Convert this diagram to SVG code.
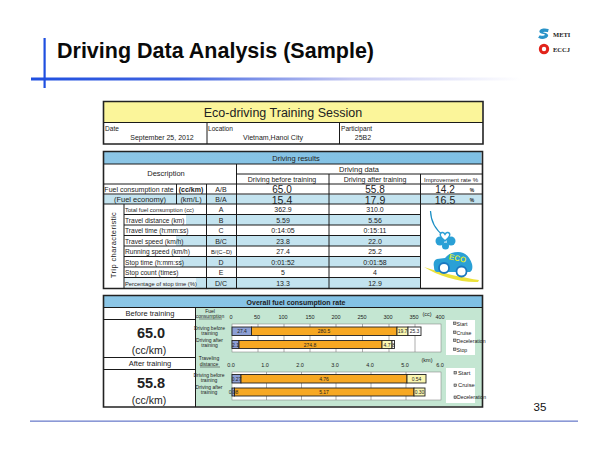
<svg xmlns="http://www.w3.org/2000/svg" width="600" height="450" viewBox="0 0 600 450">
<defs>
<linearGradient id="rule"><stop offset="0" stop-color="#1f4fe0"/><stop offset="0.3" stop-color="#3f63e0"/><stop offset="0.65" stop-color="#c5c8f2"/><stop offset="1" stop-color="#ffffff"/></linearGradient>
<linearGradient id="band" x1="0" x2="1"><stop offset="0" stop-color="#8cc6e6"/><stop offset="1" stop-color="#7fc0e4"/></linearGradient>
</defs>
<style>
text{font-family:"Liberation Sans",Arial,sans-serif;fill:#222;text-anchor:middle}
.s{font-size:7px}.m{font-size:7.5px}.l{font-size:6.6px;text-anchor:start}.v{font-size:7px}
.big1{font-size:10px}.big2{font-size:10.5px}.xs{font-size:5px}.ax{font-size:5.5px}.leg{font-size:5.2px;text-anchor:start}
.val{font-size:14.5px;font-weight:700}.unit{font-size:10.5px}
.line{stroke:#1a1a1a;stroke-width:1;fill:none}.thick{stroke:#222;stroke-width:1.6;fill:none}
.blue{fill:#c3e3ef}.band{fill:url(#band)}.grid{stroke:#777;stroke-width:.6}
.bar{stroke:#222;stroke-width:.9}.o{fill:#f7a823}.y{fill:#fbf6b0}.b{fill:#8d9fd4}.w{fill:#fff}
</style>
<rect width="600" height="450" fill="#fff"/>

<g id="slide-frame">
<rect x="31" y="77.500" width="490" height="3" fill="url(#rule)"/>
<rect x="43.500" y="38" width="2.200" height="50" fill="#1f4fe0"/>
<text x="57" y="58" font-size="22.500" font-weight="700" style="text-anchor:start;fill:#0a0a0a" textLength="317" lengthAdjust="spacingAndGlyphs">Driving Data Analysis (Sample)</text>
<rect x="30" y="420.500" width="548" height="1.300" fill="#6f80cc"/>
<text x="540" y="411" font-size="11.500" style="fill:#111">35</text>
</g>

<g id="logos">
<path d="M548 29.500c-3-1-7-.5-8 1.500-1 2.500 6 2 5.500 4-.5 1.500-3 1.500-5.500 1l-1 1.500c3 1.500 7 1 8.500-1.500 1-2.500-5.500-2.500-5-4 .5-1 3-1 5-.5z" fill="#2a93c8" stroke="#2a93c8" stroke-width="1.200"/>
<text x="553" y="36.500" font-size="6.500" font-weight="700" style="text-anchor:start;font-family:'Liberation Serif',serif">METI</text>
<circle cx="544" cy="49" r="5.200" fill="#e2231a"/><circle cx="544" cy="49" r="2.200" fill="#fff"/>
<text x="553" y="51.500" font-size="6.500" font-weight="700" style="text-anchor:start;font-family:'Liberation Serif',serif">ECCJ</text>
</g>

<g id="session-table">
<rect x="103.500" y="101.500" width="379.500" height="42.500" fill="#fff"/>
<rect x="104" y="102" width="378.500" height="20.500" fill="#fbf59a"/>
<path class="thick" d="M103.500 101.500H483V144H103.500Z"/>
<path class="line" d="M104 122.500H483M207 122.500V144M339.500 122.500V144"/>
<text x="283" y="116.500" font-size="12.500">Eco-driving Training Session</text>
<text class="l" x="105" y="131">Date</text>
<text class="s" x="162" y="140">September 25, 2012</text>
<text class="l" x="208" y="131">Location</text>
<text class="s" x="273" y="140">Vietnam,Hanoi City</text>
<text class="l" x="341" y="131">Participant</text>
<text class="s" x="363" y="140">25B2</text>
</g>

<g id="results-table">
<rect x="103" y="151" width="379" height="138" fill="#fff"/>
<rect class="band" x="103.500" y="152" width="378" height="12"/>
<rect class="blue" x="104" y="194.500" width="378" height="9.500"/>
<rect class="blue" x="124" y="214.500" width="358" height="10.500"/>
<rect class="blue" x="124" y="235.500" width="358" height="10.500"/>
<rect class="blue" x="124" y="256.500" width="358" height="10.500"/>
<rect class="blue" x="124" y="277.500" width="358" height="10.500"/>
<rect x="124" y="214.500" width="62" height="10.500" fill="#fff"/>
<rect x="124" y="235.500" width="52" height="10.500" fill="#fff"/>
<rect x="124" y="256.500" width="56" height="10.500" fill="#fff"/>
<rect x="124" y="277.500" width="72" height="10.500" fill="#fff" opacity=".6"/>
<rect x="420.500" y="204" width="62" height="85" fill="#fff"/>
<path class="thick" d="M103.500 151.500H482.500V288.500H103.500Z"/>
<path class="line" d="M103.500 164H482.500M236.500 164V288.500M236.500 174H482.500M236.500 184H482.500M103.500 184H236.500M103.500 194H482.500M103.500 204H482.500M206.500 184V288.500M176.500 184V204M329 174V288.500M420.500 174V288.500M124 204V288.500"/>
<path class="line" d="M124 214.500H420.500M124 225H420.500M124 235.500H420.500M124 246H420.500M124 256.500H420.500M124 267H420.500M124 277.500H420.500"/>
<text class="m" x="296" y="161">Driving results</text>
<text class="m" x="166" y="176">Description</text>
<text class="m" x="359" y="172">Driving data</text>
<text class="s" x="282" y="182">Driving before training</text>
<text class="s" x="375" y="182">Driving after training</text>
<text style="font-size:6px" x="451" y="182">Improvement rate %</text>
<text class="s" x="139" y="192">Fuel consumption rate</text>
<text class="s" x="191" y="192" font-weight="700">(cc/km)</text>
<text class="s" x="221" y="192">A/B</text>
<text class="big1" x="282" y="192.500">65.0</text>
<text class="big1" x="375" y="192.500">55.8</text>
<text class="big1" x="445" y="192.500">14.2</text>
<text class="xs" x="472" y="192" font-weight="700">%</text>
<text class="m" x="140" y="202">(Fuel economy)</text>
<text class="m" x="191" y="202">(km/L)</text>
<text class="s" x="221" y="202">B/A</text>
<text class="big2" x="282" y="203.800">15.4</text>
<text class="big2" x="375" y="203.800">17.9</text>
<text class="big2" x="445" y="203.800">16.5</text>
<text class="xs" x="472" y="202" font-weight="700">%</text>
<text class="m" transform="translate(115.500 245) rotate(-90)" style="letter-spacing:.4px">Trip characteristic</text>
<text class="l" style="font-size:5.800px" x="125" y="212">Total fuel consumption (cc)</text>
<text class="l" x="125" y="222.500">Travel distance (km)</text>
<text class="l" x="125" y="233">Travel time (h:mm:ss)</text>
<text class="l" x="125" y="243.500">Travel speed (km/h)</text>
<text class="l" x="125" y="254">Running speed (km/h)</text>
<text class="l" x="125" y="264.500">Stop time (h:mm:ss)</text>
<text class="l" x="125" y="275">Stop count (times)</text>
<text class="l" style="font-size:5.800px" x="125" y="285.500">Percentage of stop time (%)</text>
<text class="s" x="221" y="212">A</text><text class="s" x="221" y="222.500">B</text><text class="s" x="221" y="233">C</text><text class="s" x="221" y="243.500">B/C</text><text style="font-size:5.800px" x="221.500" y="254">B/(C−D)</text><text class="s" x="221" y="264.500">D</text><text class="s" x="221" y="275">E</text><text class="s" x="221" y="285.500">D/C</text>
<text class="v" x="283" y="212">362.9</text><text class="v" x="283" y="222.500">5.59</text><text class="v" x="283" y="233">0:14:05</text><text class="v" x="283" y="243.500">23.8</text><text class="v" x="283" y="254">27.4</text><text class="v" x="283" y="264.500">0:01:52</text><text class="v" x="283" y="275">5</text><text class="v" x="283" y="285.500">13.3</text>
<text class="v" x="375" y="212">310.0</text><text class="v" x="375" y="222.500">5.56</text><text class="v" x="375" y="233">0:15:11</text><text class="v" x="375" y="243.500">22.0</text><text class="v" x="375" y="254">25.2</text><text class="v" x="375" y="264.500">0:01:58</text><text class="v" x="375" y="275">4</text><text class="v" x="375" y="285.500">12.9</text>
</g>

<g id="eco-icon">
<path d="M430.500 211C431 224 437 231 444 236" fill="none" stroke="#1b8fc4" stroke-width="1.200"/>
<g fill="#2aa0d6"><circle cx="440" cy="241" r="4.500"/><circle cx="451" cy="241" r="4.500"/><circle cx="445.500" cy="246" r="3.500"/></g>
<path d="M445 241c-3-3-6-5-4.500-7.500 1.200-1.800 3.500-1 4.500.8 1-1.800 3.300-2.600 4.500-.8 1.500 2.500-1.500 4.500-4.500 7.500z" fill="#fff" stroke="#2aa0d6" stroke-width="1.500"/>
<path d="M424 267C445 274 465 278 479 280L478 282C462 283 438 276 424 267Z" fill="#ece23a"/>
<path d="M434 267c-1-4 0-7 3-8l8-1c3-3.500 7-6 13-6 7 0 12 5 14 12 1 4 0 7-2 8h-32c-3 0-4-2-4-5z" fill="#2aa0d6"/>
<circle cx="444" cy="268" r="5" fill="#fff" stroke="#1b78c0" stroke-width="1.800"/>
<circle cx="461.500" cy="271.500" r="5" fill="#fff" stroke="#1b78c0" stroke-width="1.800"/>
<text x="457" y="261" font-size="8" font-weight="700" transform="rotate(12 457 261)" style="fill:#d6e83a">ECO</text>
</g>

<g id="overall-table">
<rect x="104" y="296" width="378" height="111" fill="#fff"/>
<rect class="band" x="104" y="296" width="378" height="11.500"/>
<rect x="196" y="308" width="286" height="98.500" fill="#c4e6d2"/>
<path class="thick" d="M103.500 295.500H482.500V407H103.500Z"/>
<path class="line" d="M103.500 307.500H482.500M195.500 307.500V407M103.500 319.500H195.500M103.500 357.500H195.500M103.500 369.500H195.500"/>
<text x="296" y="304.500" font-weight="700" font-size="7">Overall fuel consumption rate</text>
<text class="m" x="150" y="316">Before training</text>
<text class="val" x="151" y="337.500">65.0</text>
<text class="unit" x="149" y="354">(cc/km)</text>
<text class="m" x="150" y="366">After training</text>
<text class="val" x="151" y="388">55.8</text>
<text class="unit" x="149" y="404">(cc/km)</text>
</g>

<g id="chart-fuel">
<rect x="232" y="324" width="209" height="28" fill="#fff" stroke="#777" stroke-width=".5"/>
<path class="grid" d="M258 324V352M284 324V352M310 324V352M336 324V352M362.500 324V352M389 324V352M415 324V352"/>
<rect class="bar b" x="232" y="327" width="19.500" height="8.500"/><rect class="bar o" x="251.500" y="327" width="145.500" height="8.500"/><rect class="bar y" x="397" y="327" width="11" height="8.500"/><rect class="bar w" x="408" y="327" width="13" height="8.500"/>
<rect class="bar b" x="232" y="340.500" width="7" height="8"/><rect class="bar o" x="239" y="340.500" width="143" height="8"/><rect class="bar y" x="382" y="340.500" width="10" height="8"/><rect class="bar w" x="392" y="340.500" width="2.500" height="8"/>
<text class="xs" x="210" y="312.500">Fuel</text><text class="xs" x="210" y="318">consumption</text>
<path d="M199 319H222" stroke="#222" stroke-width=".5"/>
<text class="xs" x="209.500" y="330">Driving before</text><text class="xs" x="209.500" y="335">training</text>
<text class="xs" x="209.500" y="341.500">Driving after</text><text class="xs" x="209.500" y="346.500">training</text>
<text class="ax" x="231" y="319">0</text><text class="ax" x="257" y="319">50</text><text class="ax" x="283" y="319">100</text><text class="ax" x="310" y="319">150</text><text class="ax" x="336" y="319">200</text><text class="ax" x="362" y="319">250</text><text class="ax" x="388" y="319">300</text><text class="ax" x="414" y="319">350</text><text class="ax" x="440" y="319">400</text>
<text class="ax" x="427" y="316">(cc)</text>
<text class="xs" x="242" y="333.200">27.4</text><text class="xs" x="324" y="333.200">280.5</text><text class="xs" x="402.500" y="333.200">19.7</text><text class="xs" x="414.500" y="333.200">25.3</text>
<text class="xs" x="235.500" y="346.500">2.1</text><text class="xs" x="310" y="346.500">274.8</text><text class="xs" x="387" y="346.500">4.7</text><text class="xs" x="393.500" y="346.500">8</text>
<rect x="446" y="320" width="29" height="35" fill="#fff"/>
<g fill="#bbb" stroke="#222" stroke-width=".5"><rect x="453.500" y="322" width="2.500" height="2.500"/><rect x="453.500" y="331" width="2.500" height="2.500"/><rect x="453.500" y="339" width="2.500" height="2.500"/><rect x="453.500" y="348" width="2.500" height="2.500"/></g>
<text class="leg" x="456.500" y="326">Start</text><text class="leg" x="456.500" y="335">Cruise</text><text class="leg" x="456.500" y="343">Deceleration</text><text class="leg" x="456.500" y="352">Stop</text>
</g>

<g id="chart-distance">
<rect x="232" y="372" width="209" height="28" fill="#fff" stroke="#777" stroke-width=".5"/>
<path class="grid" d="M266.500 372V400M301.500 372V400M336 372V400M371 372V400M406 372V400"/>
<rect class="bar b" x="232" y="374.500" width="9" height="8.500"/><rect class="bar o" x="241" y="374.500" width="166" height="8.500"/><rect class="bar y" x="407" y="374.500" width="19" height="8.500"/>
<rect class="bar b" x="232" y="388" width="2.500" height="8"/><rect class="bar o" x="234.500" y="388" width="179.500" height="8"/><rect class="bar y" x="414" y="388" width="11" height="8"/>
<text class="xs" x="209" y="360">Traveling</text><text class="xs" x="209" y="366">distance</text>
<path d="M200 367H220" stroke="#222" stroke-width=".5"/>
<text class="xs" x="209" y="377">Driving before</text><text class="xs" x="209" y="382">training</text>
<text class="xs" x="209" y="389">Driving after</text><text class="xs" x="209" y="394">training</text>
<text class="ax" x="231" y="367">0.0</text><text class="ax" x="265" y="367">1.0</text><text class="ax" x="300" y="367">2.0</text><text class="ax" x="335" y="367">3.0</text><text class="ax" x="370" y="367">4.0</text><text class="ax" x="405" y="367">5.0</text><text class="ax" x="440" y="367">6.0</text>
<text class="ax" x="427" y="362">(km)</text>
<text class="xs" x="236.500" y="380.500">0.27</text><text class="xs" x="324" y="380.500">4.76</text><text class="xs" x="416.500" y="380.500">0.54</text>
<text class="xs" x="233.500" y="394">0.08</text><text class="xs" x="324" y="394">5.17</text><text class="xs" x="419.500" y="394">0.30</text>
<rect x="446" y="368" width="29" height="35" fill="#fff"/>
<g fill="#bbb" stroke="#222" stroke-width=".5"><rect x="454" y="371.500" width="2.500" height="2.500"/><rect x="454" y="384" width="2.500" height="2.500"/><rect x="454" y="396" width="2.500" height="2.500"/></g>
<text class="leg" x="458" y="375" style="font-size:5.800px">Start</text><text class="leg" x="458" y="387" style="font-size:5.800px">Cruise</text><text class="leg" x="457" y="399">Deceleration</text>
</g>
</svg>
